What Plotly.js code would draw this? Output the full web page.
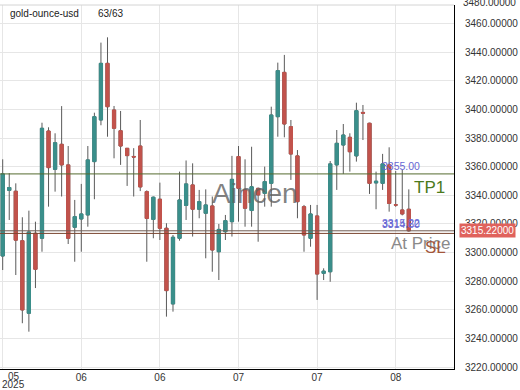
<!DOCTYPE html>
<html>
<head>
<meta charset="utf-8">
<script src="https://cdn.plot.ly/plotly-3.0.1.min.js"></script>
<style>
  html, body { margin: 0; padding: 0; background: #fff; }
  #chart { width: 520px; height: 390px; }
</style>
</head>
<body>
<div id="chart"></div>
<script>
// ---- data ----
var symbol = 'gold-ounce-usd';
var countLabel = '63/63';
var openP  = [3297.6,3343.5,3342.9,3308.3,3257.6,3313.5,3310.0,3385.0,3358.2,3375.7,3361.3,3317.7,3323.5,3326.3,3363.6,3392.7,3432.3,3399.7,3385.2,3372.9,3367.2,3374.5,3342.6,3323.2,3337.3,3317.0,3264.1,3310.0,3333.0,3347.3,3330.3,3327.5,3332.6,3300.6,3314.6,3321.6,3367.1,3343.8,3329.4,3344.9,3341.4,3348.4,3395.0,3426.0,3388.0,3367.6,3332.1,3310.0,3325.6,3285.5,3286.6,3361.3,3375.2,3380.6,3367.6,3398.0,3390.4,3348.7,3348.4,3361.3,3333.4,3329.8,3330.3];
var highP  = [3365.2,3355.5,3348.4,3324.7,3329.3,3321.6,3390.8,3387.6,3383.4,3402.4,3374.5,3336.8,3348.0,3374.5,3397.8,3446.8,3450.5,3402.5,3399.0,3373.0,3373.0,3392.7,3343.5,3339.2,3348.9,3320.5,3312.3,3356.6,3364.4,3362.4,3343.8,3344.2,3339.2,3320.0,3326.3,3367.6,3374.5,3365.2,3374.0,3345.5,3360.1,3402.0,3432.8,3438.2,3392.7,3371.7,3333.3,3333.3,3333.3,3289.0,3364.0,3385.7,3389.9,3383.4,3404.8,3403.2,3390.8,3356.6,3369.0,3373.6,3357.0,3357.8,3344.2];
var lowP   = [3287.8,3322.8,3284.3,3250.6,3244.7,3275.2,3300.6,3332.1,3342.6,3339.2,3306.0,3293.6,3300.6,3318.1,3337.3,3389.0,3381.0,3365.9,3361.3,3346.6,3339.2,3343.0,3293.6,3310.0,3308.8,3255.2,3258.7,3308.3,3322.8,3311.2,3324.0,3296.0,3286.6,3280.8,3308.8,3311.2,3321.6,3318.1,3318.1,3307.6,3332.1,3332.1,3381.0,3380.6,3350.8,3324.0,3300.6,3304.1,3266.9,3280.8,3279.6,3343.8,3355.0,3356.6,3363.6,3378.7,3341.0,3330.3,3343.8,3328.6,3332.0,3326.0,3314.6];
var closeP = [3355.0,3345.5,3308.7,3259.9,3314.4,3288.3,3386.9,3359.4,3376.8,3361.3,3310.0,3325.1,3327.0,3364.8,3395.0,3432.3,3402.0,3386.9,3374.5,3367.8,3366.8,3345.9,3323.9,3338.7,3317.0,3273.4,3310.7,3336.8,3348.0,3330.3,3335.6,3333.3,3301.8,3316.2,3322.3,3351.2,3345.0,3331.0,3346.0,3340.3,3349.6,3396.2,3427.2,3389.9,3368.9,3335.6,3312.3,3327.0,3285.0,3287.0,3362.0,3376.4,3382.2,3370.5,3399.2,3397.5,3348.4,3349.9,3362.0,3334.4,3333.2,3327.0,3315.22];
var tickIdx   = [0, 12, 24, 36, 48, 60];
var tickText  = ['', '06', '06', '07', '07', '08'];
var firstTick = ['05', '2025'];
var levels     = [3355.00, 3315.22, 3313.40];
var levelNames = ['TP1', 'At Price', 'SL'];
var levelTags  = ['3355.00', '3315.22', '3314.60'];
var lastPrice  = 3315.22;
var watermark  = 'Aincen';
var yTop = 3480;

// ---- derived ----
var xs = openP.map(function (_, i) { return i; });
var bodyHi = openP.map(function (o, i) { return Math.max(o, closeP[i]); });
var bodyLo = openP.map(function (o, i) { return Math.min(o, closeP[i]); });

var UP = '#3a8f8b', DOWN = '#c2534c', WICK = '#5a5a5a';
var font = 'Liberation Sans, Arial, sans-serif';

var wicks = {
  type: 'candlestick', x: xs, open: openP, high: highP, low: lowP, close: closeP,
  increasing: { line: { color: WICK, width: 1 }, fillcolor: WICK },
  decreasing: { line: { color: WICK, width: 1 }, fillcolor: WICK },
  whiskerwidth: 0, hoverinfo: 'skip', showlegend: false
};
var bodies = {
  type: 'candlestick', x: xs, open: openP, high: bodyHi, low: bodyLo, close: closeP,
  increasing: { line: { color: UP, width: 1 }, fillcolor: UP },
  decreasing: { line: { color: DOWN, width: 1 }, fillcolor: DOWN },
  whiskerwidth: 0, hoverinfo: 'skip', showlegend: false
};

var lineColors = ['#556b2f', '#6f5b52', '#7a4630'];
var shapes = levels.map(function (v, i) {
  return { type: 'line', xref: 'paper', x0: 0, x1: 1, yref: 'y', y0: v, y1: v,
           line: { color: lineColors[i], width: 1 } };
});
shapes.push({ type: 'line', xref: 'paper', x0: 0, x1: 1, yref: 'paper', y0: 1, y1: 1,
              line: { color: '#d4d4d4', width: 1 } });

var ann = [];
ann.push({ xref: 'paper', x: 0, xshift: 8, yref: 'paper', y: 1, yshift: -8, xanchor: 'left', yanchor: 'middle',
           text: symbol, showarrow: false, font: { family: font, size: 10, color: '#222' } });
ann.push({ xref: 'paper', x: 0, xshift: 96, yref: 'paper', y: 1, yshift: -8, xanchor: 'left', yanchor: 'middle',
           text: countLabel, showarrow: false, font: { family: font, size: 10, color: '#222' } });
ann.push({ xref: 'paper', x: 0.5617, yref: 'paper', y: 0.4835, xanchor: 'center', yanchor: 'middle',
           text: watermark, showarrow: false, font: { family: font, size: 28, color: 'rgba(95,95,95,0.8)' } });
// level tags (blue)
levelTags.forEach(function (t, i) {
  ann.push({ xref: 'x', x: 57.6, yref: 'y', y: levels[i], xanchor: 'left', yanchor: 'bottom', yshift: i === 2 ? 1 : 0,
             text: t, showarrow: false, font: { family: font, size: 10.5, color: '#6767d4' } });
});
// level names
ann.push({ xref: 'paper', x: 0.985, yref: 'y', y: levels[0], xanchor: 'right', yanchor: 'top', yshift: -2,
           text: levelNames[0], showarrow: false, font: { family: font, size: 17, color: '#4c7a1c' } });
ann.push({ xref: 'paper', x: 0.997, yref: 'y', y: levels[1], xanchor: 'right', yanchor: 'top', yshift: -1,
           text: levelNames[1], showarrow: false, font: { family: font, size: 17, color: '#8a8a8a' } });
ann.push({ xref: 'paper', x: 0.986, yref: 'y', y: levels[2], xanchor: 'right', yanchor: 'top', yshift: -3,
           text: levelNames[2], showarrow: false, font: { family: font, size: 17, color: '#a3563a' } });
// last price box
ann.push({ xref: 'paper', x: 1, xshift: 5, yref: 'y', y: lastPrice, xanchor: 'left', yanchor: 'middle',
           text: lastPrice.toFixed(5), showarrow: false, bgcolor: '#e0625c', borderpad: 1,
           font: { family: font, size: 10, color: '#fff' } });
// partially visible top tick label
ann.push({ xref: 'paper', x: 1, xshift: 7, yref: 'paper', y: 1, yshift: 3, xanchor: 'left', yanchor: 'middle',
           text: yTop.toFixed(5), showarrow: false, font: { family: font, size: 10, color: '#333' } });
// first x tick label (shifted inside)
ann.push({ xref: 'x', x: tickIdx[0], xshift: 11, yref: 'paper', y: 0, yshift: 0, xanchor: 'center', yanchor: 'top',
           text: firstTick[0], showarrow: false, font: { family: font, size: 10, color: '#333' } });
ann.push({ xref: 'x', x: tickIdx[0], xshift: 11, yref: 'paper', y: 0, yshift: -8, xanchor: 'center', yanchor: 'top',
           text: firstTick[1], showarrow: false, font: { family: font, size: 10, color: '#333' } });

var layout = {
  width: 520, height: 390,
  margin: { l: 0, r: 66, t: 5, b: 21, pad: 0 },
  paper_bgcolor: '#fff', plot_bgcolor: '#fff',
  showlegend: false, boxmode: 'overlay', boxgap: 0.3, boxgroupgap: 0.3,
  font: { family: font, size: 10, color: '#333' },
  xaxis: {
    range: [-0.41, 68.9], tickmode: 'array', tickvals: tickIdx, ticktext: tickText,
    showgrid: true, gridcolor: '#e6e6e6', gridwidth: 1, zeroline: false,
    showline: true, linecolor: '#000', linewidth: 1, ticks: '', ticklabelstandoff: -1,
    rangeslider: { visible: false }, fixedrange: true,
    tickfont: { family: font, size: 10, color: '#333' }
  },
  yaxis: {
    side: 'right', range: [3218.6, 3473.1], tick0: 3220, dtick: 20, tickformat: '.5f',
    showgrid: true, gridcolor: '#e6e6e6', gridwidth: 1, zeroline: false,
    showline: true, linecolor: '#000', linewidth: 1, ticks: '', ticklabelstandoff: 8,
    fixedrange: true, tickfont: { family: font, size: 10, color: '#333' }
  },
  shapes: shapes,
  annotations: ann
};

Plotly.newPlot('chart', [wicks, bodies], layout, { displayModeBar: false, staticPlot: true });
</script>
</body>
</html>
